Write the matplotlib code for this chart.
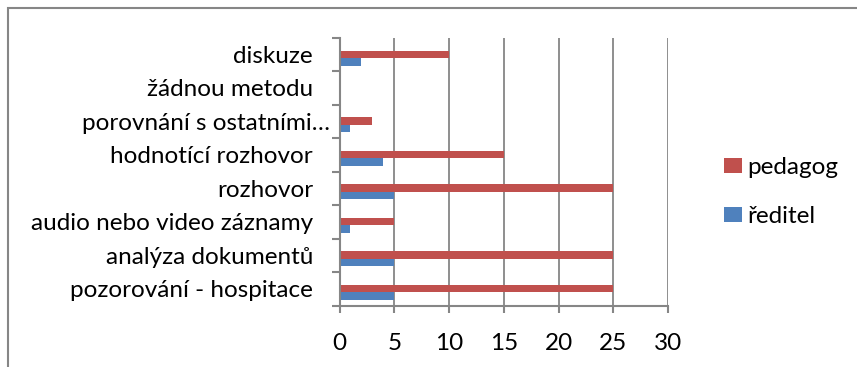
import matplotlib
matplotlib.use('Agg')
import matplotlib.pyplot as plt
import matplotlib.transforms as mtransforms
from matplotlib.patches import Rectangle
import numpy as np

plt.rcParams['font.family'] = ['Lato', 'DejaVu Sans']

# kategorie odspodu nahoru
kategorie = ['pozorování - hospitace', 'analýza dokumentů', 'audio nebo video záznamy',
             'rozhovor', 'hodnotící rozhovor', 'porovnání s ostatními…',
             'žádnou metodu', 'diskuze']
reditel = [5, 5, 1, 5, 4, 1, 0, 2]
pedagog = [25, 25, 5, 25, 15, 3, 0, 10]
x_ticky = [0, 5, 10, 15, 20, 25, 30]

cervena = '#C0504D'
modra = '#4F81BD'
seda = '#868686'
fs = 17.5

fig = plt.figure(figsize=(8.57, 3.67), dpi=100)
ax = fig.add_axes([339.5 / 857, 1 - 305.5 / 367, (668 - 339.5) / 857, (305.5 - 37.7) / 367])

y = np.arange(len(kategorie)) + 0.5
h = 0.224
ax.barh(y + 0.005, pedagog, height=h, color=cervena, label='pedagog', zorder=3)
ax.barh(y - h + 0.005, reditel, height=h, color=modra, label='ředitel', zorder=3)

ax.set_xlim(0, 30)
ax.set_ylim(0, len(kategorie))
ax.set_xticks(x_ticky)
ax.set_xticklabels([str(v) for v in x_ticky], fontsize=fs)
ax.tick_params(axis='x', length=5, width=1.5, color=seda, pad=15)

# čárky na hranicích kategorií, popisky uprostřed
ax.set_yticks(np.arange(len(kategorie) + 1))
ax.set_yticklabels([])
ax.set_yticks(y, minor=True)
ax.set_yticklabels(kategorie, minor=True, fontsize=fs)
ax.tick_params(axis='y', which='major', length=6, width=1.5, color=seda)
ax.tick_params(axis='y', which='minor', length=0, pad=19)

# zkrácený popisek sahá blíž k ose
for lbl in ax.get_yticklabels(minor=True):
    if lbl.get_text().endswith('…'):
        lbl.set_transform(lbl.get_transform() + mtransforms.ScaledTranslation(17 / 100, 0, fig.dpi_scale_trans))

ax.grid(axis='x', color=seda, linewidth=1.3, zorder=0)
for s in ['top', 'right']:
    ax.spines[s].set_visible(False)
for s in ['left', 'bottom']:
    ax.spines[s].set_color(seda)
    ax.spines[s].set_linewidth(1.5)
    ax.spines[s].set_zorder(4)

handles, labels = ax.get_legend_handles_labels()
leg = fig.legend(handles, labels, loc='center left', bbox_to_anchor=(724 / 857, 1 - 192 / 367),
                 frameon=False, fontsize=fs, handlelength=0.75, handleheight=0.62,
                 handletextpad=0.2, labelspacing=1.15, borderaxespad=0, borderpad=0)

# rámeček grafu
fig.patches.append(Rectangle((8 / 857, -0.1), 1.2, 1.1 - 8 / 367,
                             transform=fig.transFigure, fill=False,
                             edgecolor=seda, linewidth=1.5))

fig.savefig('out.png', dpi=100)
